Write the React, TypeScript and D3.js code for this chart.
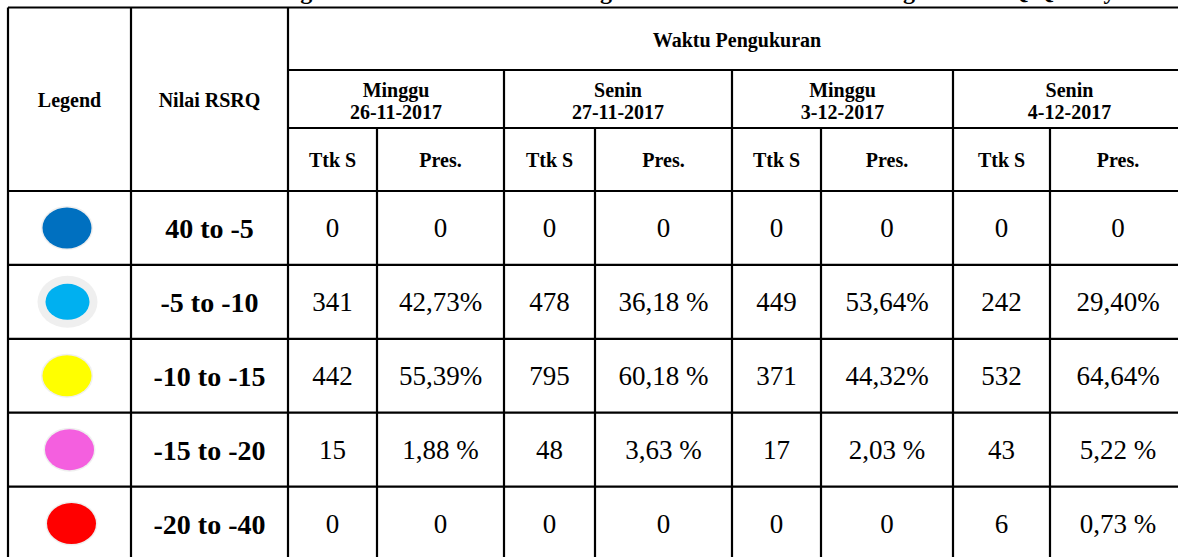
import React, { useEffect } from "react";
import * as d3 from "d3";

// data
const ranges = ["40 to -5", "-5 to -10", "-10 to -15", "-15 to -20", "-20 to -40"];
const legendColors = ["#0070C0", "#00B0F0", "#FFFF00", "#F45FDF", "#FF0000"];
const days = ["Minggu", "Senin", "Minggu", "Senin"];
const dates = ["26-11-2017", "27-11-2017", "3-12-2017", "4-12-2017"];
const counts = [
  [0, 341, 442, 15, 0],
  [0, 478, 795, 48, 0],
  [0, 449, 371, 17, 0],
  [0, 242, 532, 43, 6],
];
const percents = [
  ["0", "42,73%", "55,39%", "1,88 %", "0"],
  ["0", "36,18 %", "60,18 %", "3,63 %", "0"],
  ["0", "53,64%", "44,32%", "2,03 %", "0"],
  ["0", "29,40%", "64,64%", "5,22 %", "0,73 %"],
];
const subHeads = ["Ttk S", "Pres."];
const title =
  "Tabel 3. Hasil Pengolahan data Drive Test Pengukuran Persentase Nilai Legend RSRQ Quality Test";

// layout
const W = 1178;
const H = 557;
const FONT = "'Liberation Serif', 'Times New Roman', serif";
const colEdges = [8, 131, 288, 377, 504, 595, 732, 821, 953, 1050, 1186];
const tableTop = 7.5;
const headRow1 = 70;
const headRow2 = 128;
const headBottom = 191;
const rowH = 73.9;

export default function App() {
  useEffect(() => {
    document.body.style.margin = "0";
  }, []);

  const y = d3
    .scaleBand<string>()
    .domain(ranges)
    .range([headBottom, headBottom + ranges.length * rowH]);

  // each date group owns two columns (Ttk S, Pres.)
  const groupX = (i: number) => [colEdges[2 + i * 2], colEdges[3 + i * 2], colEdges[4 + i * 2]];
  const mid = (a: number, b: number) => (a + b) / 2;
  const bodyBottom = headBottom + ranges.length * rowH;

  const lines: { x1: number; y1: number; x2: number; y2: number }[] = [];
  // horizontals
  lines.push({ x1: colEdges[0], y1: tableTop, x2: W, y2: tableTop });
  lines.push({ x1: colEdges[2], y1: headRow1, x2: W, y2: headRow1 });
  lines.push({ x1: colEdges[2], y1: headRow2, x2: W, y2: headRow2 });
  ranges.forEach((r) => {
    lines.push({ x1: colEdges[0], y1: y(r)!, x2: W, y2: y(r)! });
  });
  // verticals
  [0, 1, 2].forEach((c) =>
    lines.push({ x1: colEdges[c], y1: tableTop, x2: colEdges[c], y2: bodyBottom })
  );
  days.forEach((_, i) => {
    const [x0, xm] = groupX(i);
    if (i > 0) lines.push({ x1: x0, y1: headRow1, x2: x0, y2: bodyBottom });
    lines.push({ x1: xm, y1: headRow2, x2: xm, y2: bodyBottom });
  });

  const halo = [2, 6, 2, 2, 2];
  const dotX = [67, 67.5, 67, 69.5, 71.5];

  return (
    <svg width={W} height={H} style={{ display: "block", background: "#fff" }}>
      <text
        x={108}
        y={-1.5}
        fontFamily={FONT}
        fontWeight="bold"
        fontSize={24}
        fill="#000"
        textLength={1057}
        lengthAdjust="spacing"
      >
        {title}
      </text>

      {/* header */}
      <g fontFamily={FONT} fontWeight="bold" fontSize={20} fill="#000" textAnchor="middle">
        <text x={mid(colEdges[0], colEdges[1])} y={107}>Legend</text>
        <text x={mid(colEdges[1], colEdges[2])} y={107}>Nilai RSRQ</text>
        <text x={mid(colEdges[2], colEdges[colEdges.length - 1])} y={47}>Waktu Pengukuran</text>
        {days.map((d, i) => {
          const [x0, xm, x1] = groupX(i);
          return (
            <g key={i}>
              <text x={mid(x0, x1)} y={97}>{d}</text>
              <text x={mid(x0, x1)} y={119}>{dates[i]}</text>
              <text x={mid(x0, xm)} y={167}>{subHeads[0]}</text>
              <text x={mid(xm, x1)} y={167}>{subHeads[1]}</text>
            </g>
          );
        })}
      </g>

      {/* body */}
      {ranges.map((r, ri) => {
        const cy = y(r)! + y.bandwidth() / 2;
        const cx = dotX[ri];
        return (
          <g key={r}>
            <ellipse cx={cx} cy={cy} rx={24 + halo[ri]} ry={20 + halo[ri]} fill="#EFEFEF" />
            <ellipse cx={cx} cy={cy} rx={ri === 1 ? 22 : 24.5} ry={ri === 1 ? 18 : 20.5} fill={legendColors[ri]} />
            <text
              x={mid(colEdges[1], colEdges[2])}
              y={cy + 10}
              fontFamily={FONT}
              fontWeight="bold"
              fontSize={28}
              textAnchor="middle"
            >
              {r}
            </text>
            {days.map((_, gi) => {
              const [x0, xm, x1] = groupX(gi);
              return (
                <g key={gi} fontFamily={FONT} fontSize={27} textAnchor="middle">
                  <text x={mid(x0, xm)} y={cy + 9.5}>{counts[gi][ri]}</text>
                  <text x={mid(xm, x1)} y={cy + 9.5}>{percents[gi][ri]}</text>
                </g>
              );
            })}
          </g>
        );
      })}

      <g stroke="#000" strokeWidth={2.2}>
        {lines.map((l, i) => (
          <line key={i} {...l} />
        ))}
      </g>
    </svg>
  );
}
